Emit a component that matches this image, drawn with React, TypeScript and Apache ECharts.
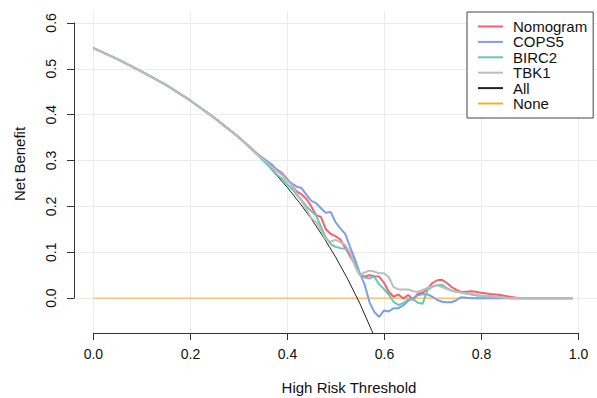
import React, { useEffect, useRef } from 'react';
import * as echarts from 'echarts';

// Tick values
const xTicks = [0, 0.2, 0.4, 0.6, 0.8, 1.0];
const yTicks = [0, 0.1, 0.2, 0.3, 0.4, 0.5, 0.6];
// Plot region extent (R's 4% padding around xlim 0..1 and ylim -0.05..0.6)
const xRange = [-0.04, 1.04];
const yRange = [-0.076, 0.626];

// High risk thresholds shared by the model curves
const thresholds = [
  0, 0.05, 0.1, 0.15, 0.2, 0.25, 0.3, 0.32, 0.34,
  0.36, 0.37, 0.38, 0.39, 0.4, 0.41, 0.42, 0.43, 0.44, 0.45,
  0.46, 0.47, 0.48, 0.49, 0.5, 0.51, 0.52, 0.53, 0.54, 0.55,
  0.56, 0.57, 0.58, 0.59, 0.6, 0.61, 0.62, 0.63, 0.64, 0.65,
  0.66, 0.67, 0.68, 0.69, 0.7, 0.71, 0.72, 0.73, 0.74, 0.75,
  0.76, 0.77, 0.78, 0.79, 0.8,
  0.82, 0.84, 0.86, 0.88, 0.9, 0.95, 0.99,
];

const nomogram = [
  0.545, 0.521, 0.494, 0.465, 0.431, 0.393, 0.351, 0.332, 0.313,
  0.296, 0.288, 0.28, 0.272, 0.26, 0.246, 0.232, 0.226, 0.216, 0.2,
  0.181, 0.177, 0.15, 0.14, 0.135, 0.128, 0.11, 0.092, 0.074, 0.053,
  0.047, 0.05, 0.048, 0.047, 0.034, 0.014, 0.003, 0.008, -0.001, 0.007,
  -0.004, 0.01, 0.012, 0.02, 0.033, 0.039, 0.04, 0.033, 0.024, 0.018,
  0.013, 0.014, 0.015, 0.014, 0.012,
  0.009, 0.007, 0.003, 0, 0, 0, 0,
];

const cops5 = [
  0.545, 0.521, 0.494, 0.465, 0.431, 0.393, 0.351, 0.332, 0.313,
  0.298, 0.29, 0.278, 0.27, 0.258, 0.25, 0.243, 0.24, 0.225, 0.212,
  0.207, 0.196, 0.186, 0.188, 0.166, 0.152, 0.14, 0.112, 0.085, 0.055,
  0.03, -0.008, -0.03, -0.041, -0.027, -0.029, -0.022, -0.022, -0.016, -0.006,
  0, 0.006, 0.009, 0.008, 0.003, -0.004, -0.008, -0.009, -0.009, -0.004,
  0.002, 0.001, 0, 0, 0,
  0, 0, 0, 0, 0, 0, 0,
];

const birc2 = [
  0.545, 0.521, 0.494, 0.465, 0.431, 0.393, 0.351, 0.331, 0.311,
  0.29, 0.28, 0.268, 0.26, 0.248, 0.238, 0.225, 0.214, 0.2, 0.19,
  0.18, 0.156, 0.132, 0.118, 0.112, 0.109, 0.108, 0.1, 0.075, 0.052,
  0.045, 0.043, 0.047, 0.03, 0.02, 0.008, -0.008, -0.015, -0.011, -0.003,
  -0.002, -0.01, -0.012, 0.018, 0.025, 0.028, 0.029, 0.022, 0.017, 0.014,
  0.012, 0.01, 0.008, 0.006, 0.005,
  0.004, 0.002, 0, 0, 0, 0, 0,
];

const tbk1 = [
  0.545, 0.521, 0.494, 0.465, 0.431, 0.393, 0.351, 0.332, 0.312,
  0.294, 0.285, 0.276, 0.268, 0.256, 0.246, 0.228, 0.212, 0.194, 0.174,
  0.166, 0.148, 0.128, 0.123, 0.127, 0.122, 0.116, 0.1, 0.07, 0.05,
  0.056, 0.06, 0.058, 0.054, 0.054, 0.046, 0.024, 0.019, 0.019, 0.019,
  0.015, 0.014, 0.018, 0.022, 0.026, 0.028, 0.024, 0.02, 0.016, 0.014,
  0.012, 0.01, 0.009, 0.008, 0.006,
  0.004, 0.002, 0, 0, 0, 0, 0,
];

// "Treat all" reference curve
const allThresholds = [
  0, 0.05, 0.1, 0.15, 0.2, 0.25, 0.3, 0.325, 0.35, 0.375, 0.4, 0.425,
  0.45, 0.475, 0.5, 0.525, 0.55, 0.575, 0.577,
];
const allNB = [
  0.545, 0.521, 0.494, 0.465, 0.431, 0.393, 0.35, 0.326, 0.3, 0.272, 0.242,
  0.209, 0.173, 0.133, 0.09, 0.042, -0.011, -0.071, -0.076,
];

// "Treat none" reference line
const noneThresholds = [0, 0.99];
const noneNB = [0, 0];

const seriesNames = ['Nomogram', 'COPS5', 'BIRC2', 'TBK1', 'All', 'None'];
const seriesColors = ['#F2636D', '#7F9DEB', '#6CC4B3', '#BDBDBD', '#222222', '#F6AE2D'];

export default function App() {
  const ref = useRef<HTMLDivElement>(null);

  useEffect(() => {
    const chart = echarts.init(ref.current as HTMLDivElement, null, { renderer: 'svg' });
    const font = '"Liberation Sans", Arial, Helvetica, sans-serif';
    const pairs = (xs: number[], ys: number[]) => xs.map((x, i) => [x, ys[i]]);
    const line = (name: string, data: number[][], color: string, width: number, z: number) => ({
      type: 'line',
      name,
      data,
      xAxisIndex: 0,
      yAxisIndex: 0,
      showSymbol: false,
      symbol: 'none',
      lineStyle: { color, width },
      itemStyle: { color },
      z,
      silent: true,
    });

    // plot region
    const G = { left: 74, top: 11, width: 524, height: 322 };
    const px = (v: number) => G.left + ((v - xRange[0]) / (xRange[1] - xRange[0])) * G.width;
    const py = (v: number) => G.top + ((yRange[1] - v) / (yRange[1] - yRange[0])) * G.height;
    const x0 = xTicks[0];
    const x1 = xTicks[xTicks.length - 1];
    const y0 = yTicks[0];
    const y1 = yTicks[yTicks.length - 1];

    const tickLabel = {
      formatter: (v: number) => v.toFixed(1),
      fontSize: 14,
      color: '#111',
      fontFamily: font,
    };
    const hidden = (gridIndex: number) => ({ type: 'value', gridIndex, show: false, min: 0, max: 1 });

    chart.setOption({
      animation: false,
      textStyle: { fontFamily: font },
      grid: [
        { ...G, containLabel: false },
        // x axis frame: spans 0..1 horizontally, full plot height
        { left: px(x0), width: px(x1) - px(x0), top: G.top, height: G.height, containLabel: false },
        // y axis frame: spans 0..0.6 vertically, full plot width
        { left: G.left, width: G.width, top: py(y1), height: py(y0) - py(y1), containLabel: false },
      ],
      xAxis: [
        { type: 'value', gridIndex: 0, show: false, min: xRange[0], max: xRange[1] },
        {
          type: 'value',
          gridIndex: 1,
          min: x0,
          max: x1,
          interval: xTicks[1] - xTicks[0],
          axisLine: { show: true, lineStyle: { color: '#333', width: 1 } },
          axisTick: { show: true, length: 7, lineStyle: { color: '#333', width: 1 } },
          axisLabel: { ...tickLabel, margin: 14 },
          splitLine: { show: true, lineStyle: { color: '#EBEBEB', width: 1 } },
        },
        hidden(2),
      ],
      yAxis: [
        { type: 'value', gridIndex: 0, show: false, min: yRange[0], max: yRange[1] },
        hidden(1),
        {
          type: 'value',
          gridIndex: 2,
          min: y0,
          max: y1,
          interval: yTicks[1] - yTicks[0],
          axisLine: { show: true, lineStyle: { color: '#333', width: 1 } },
          axisTick: { show: true, length: 7, lineStyle: { color: '#333', width: 1 } },
          axisLabel: { ...tickLabel, margin: 16, rotate: 90 },
          splitLine: { show: true, lineStyle: { color: '#EBEBEB', width: 1 } },
        },
      ],
      legend: {
        data: seriesNames,
        orient: 'vertical',
        left: 467,
        top: 12,
        padding: [7, 6, 7, 11],
        itemGap: 0.4,
        itemWidth: 25,
        itemHeight: 2,
        icon: 'rect',
        backgroundColor: '#ffffff',
        borderColor: '#444',
        borderWidth: 1,
        borderRadius: 0,
        textStyle: { fontSize: 15, lineHeight: 15, color: '#111', fontFamily: font, padding: [0, 0, 0, 5] },
        selectedMode: false,
      },
      graphic: [
        {
          type: 'text',
          x: 349,
          y: 387,
          style: { text: 'High Risk Threshold', font: `15px ${font}`, fill: '#111', align: 'center', verticalAlign: 'middle' },
        },
        {
          type: 'text',
          x: 19,
          y: 164,
          rotation: Math.PI / 2,
          style: { text: 'Net Benefit', font: `15px ${font}`, fill: '#111', align: 'center', verticalAlign: 'middle' },
        },
      ],
      series: [
        line(seriesNames[5], pairs(noneThresholds, noneNB), seriesColors[5], 1, 1),
        line(seriesNames[4], pairs(allThresholds, allNB), seriesColors[4], 1, 2),
        line(seriesNames[0], pairs(thresholds, nomogram), seriesColors[0], 2, 3),
        line(seriesNames[1], pairs(thresholds, cops5), seriesColors[1], 2, 4),
        line(seriesNames[2], pairs(thresholds, birc2), seriesColors[2], 2, 5),
        line(seriesNames[3], pairs(thresholds, tbk1), seriesColors[3], 2, 6),
      ],
    });

    return () => chart.dispose();
  }, []);

  return (
    <div
      ref={ref}
      style={{ position: 'absolute', left: 0, top: 0, width: 597, height: 398, background: '#fff' }}
    />
  );
}
